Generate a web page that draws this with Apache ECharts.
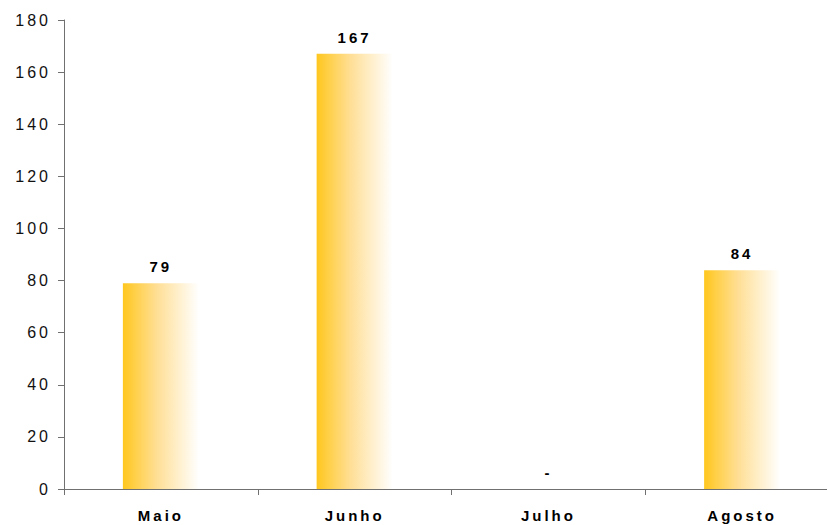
<!DOCTYPE html>
<html>
<head>
<meta charset="utf-8">
<script src="https://cdn.jsdelivr.net/npm/echarts@6/dist/echarts.min.js"></script>
<style>
  html, body { margin: 0; padding: 0; background: #fff; overflow: hidden; }
  #chart { width: 839px; height: 525px; }
  #chart text { letter-spacing: 3px; }
</style>
</head>
<body>
<div id="chart"></div>
<script>
const categories = ['Maio', 'Junho', 'Julho', 'Agosto'];
const values = [79, 167, 0, 84];
const yTicks = { min: 0, max: 180, interval: 20 };

const chart = echarts.init(document.getElementById('chart'), null, { renderer: 'svg' });
chart.setOption({
  animation: false,
  backgroundColor: '#ffffff',
  grid: { left: 64, right: 0, top: 20, bottom: 36, containLabel: false },
  xAxis: {
    type: 'category',
    data: categories,
    boundaryGap: true,
    axisLine: { lineStyle: { color: '#707070', width: 1 } },
    axisTick: { show: true, length: 6, alignWithLabel: false, lineStyle: { color: '#707070' } },
    axisLabel: { color: '#000', fontFamily: 'Liberation Sans', fontWeight: 'bold', fontSize: 15, margin: 19 }
  },
  yAxis: {
    type: 'value',
    min: yTicks.min, max: yTicks.max, interval: yTicks.interval,
    splitLine: { show: false },
    axisLine: { show: true, lineStyle: { color: '#707070', width: 1 } },
    axisTick: { show: true, length: 6, lineStyle: { color: '#707070' } },
    axisLabel: { color: '#111', fontFamily: 'Liberation Sans', fontSize: 16, margin: 13 }
  },
  series: [{
    type: 'bar',
    data: values,
    barWidth: 76,
    itemStyle: {
      color: {
        type: 'linear', x: 0, y: 0, x2: 1, y2: 0,
        colorStops: [
          { offset: 0, color: '#FFC71E' },
          { offset: 0.45, color: '#FFDF96' },
          { offset: 1, color: '#FFFFFF' }
        ]
      }
    },
    label: {
      show: true,
      position: 'top',
      distance: 9,
      color: '#000',
      fontFamily: 'Liberation Sans',
      fontWeight: 'bold',
      fontSize: 15,
      formatter: p => (p.value === 0 ? '-' : String(p.value))
    }
  }]
});
</script>
</body>
</html>
